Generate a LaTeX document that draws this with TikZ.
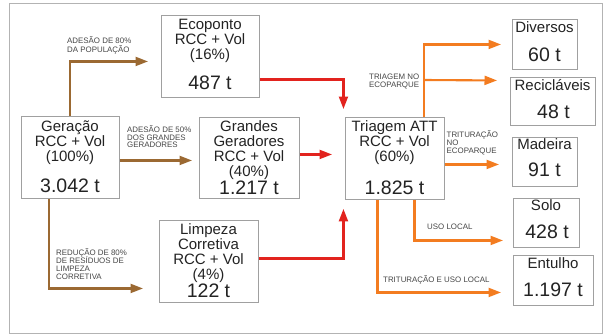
\documentclass[tikz,border=0pt]{standalone}
\usepackage{fontspec}
\setmainfont{Liberation Sans}
\usetikzlibrary{arrows.meta}
\definecolor{brn}{RGB}{155,105,50}
\definecolor{rd}{RGB}{226,35,30}
\definecolor{org}{RGB}{243,124,32}
\definecolor{bxline}{RGB}{160,160,160}
\definecolor{txt}{RGB}{35,35,35}
\definecolor{stxt}{RGB}{70,70,70}
\newcommand\boxfont{\fontsize{15}{14.5}\selectfont}
\newcommand\numfont{\fontsize{19.5}{20}\selectfont}
\newcommand\smfont[1]{\fontsize{7.9}{#1}\selectfont}
\newcommand\lines[2]{\begin{tabular}[t]{@{}#1@{}}#2\end{tabular}}
\tikzset{
  databox/.style={draw=bxline, line width=0.9pt, fill=white, inner sep=0pt, anchor=north west},
  lbltext/.style={anchor=base, inner sep=0pt, text=txt, font=\boxfont},
  numtext/.style={anchor=base, inner sep=0pt, text=txt, font=\numfont},
  smtext/.style={anchor=base west, inner sep=0pt, text=stxt},
  conn/.style={line width=2.1pt, -{Triangle[length=12.5pt,width=9pt]}},
  brnarrow/.style={conn, draw=brn},
  rdarrow/.style={conn, draw=rd},
  orgarrow/.style={conn, draw=org},
}
\begin{document}
\begin{tikzpicture}[x=1pt,y=-1pt]
\useasboundingbox (0,0) rectangle (607,335);
\draw[draw=bxline!80, line width=0.8pt] (9,3) rectangle (602,333);

% boxes
\node[databox, minimum width=98pt, minimum height=82pt] (ger) at (21,116) {};
\node[databox, minimum width=98pt, minimum height=82pt] (eco) at (161,15) {};
\node[databox, minimum width=100pt, minimum height=81pt] (gg) at (199,117) {};
\node[databox, minimum width=99pt, minimum height=82pt] (lc) at (159,220) {};
\node[databox, minimum width=99pt, minimum height=82pt] (tri) at (345,117) {};
\node[databox, minimum width=65pt, minimum height=50pt] (div) at (512,19) {};
\node[databox, minimum width=85pt, minimum height=48pt] (rec) at (510,77) {};
\node[databox, minimum width=65pt, minimum height=49pt] (mad) at (512,137) {};
\node[databox, minimum width=66pt, minimum height=49pt] (solo) at (513,198) {};
\node[databox, minimum width=80pt, minimum height=50pt] (ent) at (513,255) {};

% box texts
\node[lbltext] (gerT) at (70,131.5) {\lines{c}{Geração\\RCC + Vol\\(100\%)}};
\node[numtext] (gerN) at (70,192.5) {3.042 t};
\node[lbltext] (ecoT) at (210,29) {\lines{c}{Ecoponto\\RCC + Vol\\(16\%)}};
\node[numtext] (ecoN) at (210,89) {487 t};
\node[lbltext] (ggT) at (249,131) {\lines{c}{Grandes\\Geradores\\RCC + Vol\\(40\%)}};
\node[numtext] (ggN) at (249,194) {1.217 t};
\node[lbltext] (lcT) at (208.5,234) {\lines{c}{Limpeza\\Corretiva\\RCC + Vol\\(4\%)}};
\node[numtext] (lcN) at (208.5,297) {122 t};
\node[lbltext] (triT) at (394.5,131) {\lines{c}{Triagem ATT\\RCC + Vol\\(60\%)}};
\node[numtext] (triN) at (394.5,194) {1.825 t};
\node[lbltext] (divT) at (544.5,32) {Diversos};
\node[numtext] (divN) at (544.5,61) {60 t};
\node[lbltext] (recT) at (552.5,90) {Recicláveis};
\node[numtext] (recN) at (553.5,118) {48 t};
\node[lbltext] (madT) at (544.5,149) {Madeira};
\node[numtext] (madN) at (544.5,176) {91 t};
\node[lbltext] (soloT) at (546,210) {Solo};
\node[numtext] (soloN) at (547,238) {428 t};
\node[lbltext] (entT) at (553,268) {Entulho};
\node[numtext] (entN) at (553,296) {1.197 t};

% brown connectors
\draw[brnarrow] ([xshift=49pt]ger.north west) |- ([xshift=-13pt,yshift=-5pt]eco.west);
\draw[brnarrow] ([yshift=-3pt]ger.east) -- ([xshift=-7pt,yshift=-2.5pt]gg.west);
\draw[brnarrow] ([xshift=28pt]ger.south west) |- ([xshift=-16pt,yshift=-27pt]lc.west);

% red connectors
\draw[rdarrow] ([yshift=-23pt]eco.east) -| ([xshift=-51.5pt,yshift=8pt]tri.north);
\draw[rdarrow] ([yshift=3.5pt]gg.east) -- ([xshift=-13pt,yshift=4pt]tri.west);
\draw[rdarrow] ([yshift=3pt]lc.east) -| ([xshift=-51.5pt,yshift=-9pt]tri.south);

% orange connectors
\coordinate (branch) at ([xshift=29pt,yshift=37pt]tri.north);
\draw[orgarrow] ([xshift=29pt]tri.north) |- ([xshift=-11pt]div.west);
\draw[orgarrow] (branch) -- ([xshift=-13pt,yshift=21pt]rec.west);
\draw[orgarrow] ([yshift=-6pt]tri.east) -- ([xshift=-13pt,yshift=-2.5pt]mad.west);
\draw[orgarrow] ([xshift=19.5pt]tri.south) |- ([xshift=-10pt,yshift=-17.5pt]solo.west);
\draw[orgarrow] ([xshift=-17.5pt]tri.south) |- ([xshift=-12pt,yshift=-12pt]ent.west);

% small labels
\node[smtext] (l1) at (67,43) {\smfont{8.7}\lines{l}{ADESÃO DE 80\%\\DA POPULAÇÃO}};
\node[smtext] (l2) at (127,132.3) {\smfont{7.7}\lines{l}{ADESÃO DE 50\%\\DOS GRANDES\\GERADORES}};
\node[smtext] (l3) at (56,255) {\smfont{7}\lines{l}{REDUÇÃO DE 80\%\\DE RESÍDUOS DE\\LIMPEZA\\CORRETIVA}};
\node[smtext] (l4) at (369,79.7) {\smfont{7.3}\lines{l}{TRIAGEM NO\\ECOPARQUE}};
\node[smtext] (l5) at (446.5,137.3) {\smfont{8}\lines{l}{TRITURAÇÃO\\NO\\ECOPARQUE}};
\node[smtext] (l6) at (427,229) {\smfont{8}USO LOCAL};
\node[smtext] (l7) at (383,282) {\smfont{8}TRITURAÇÃO E USO LOCAL};
\end{tikzpicture}
\end{document}
